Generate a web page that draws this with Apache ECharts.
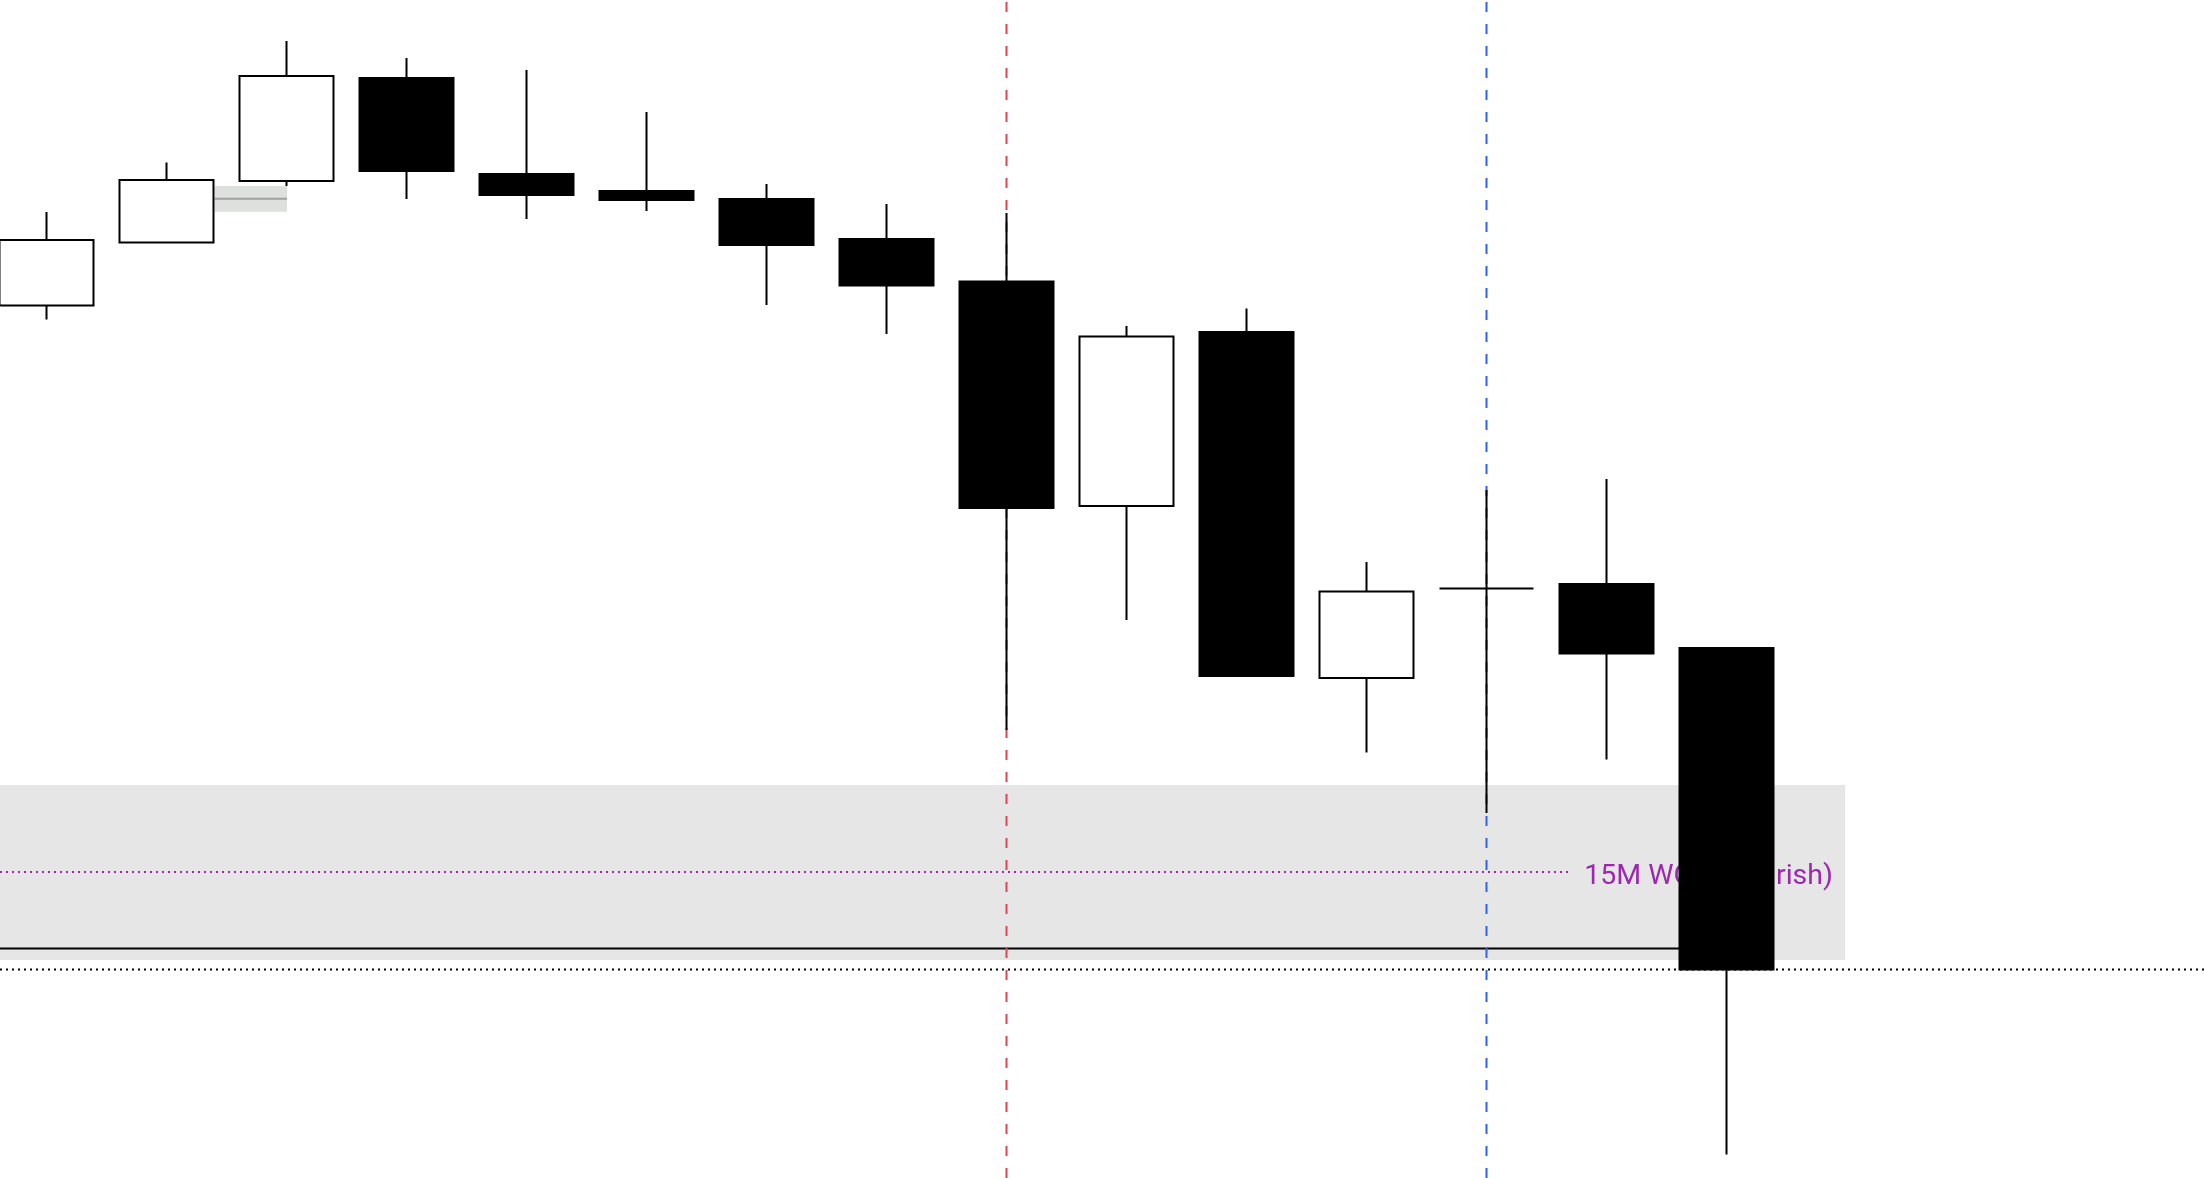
<!DOCTYPE html>
<html>
<head>
<meta charset="utf-8">
<script src="https://cdn.jsdelivr.net/npm/echarts@6/dist/echarts.min.js"></script>
<style>
html,body{margin:0;padding:0;background:#ffffff;}
#chart{width:2204px;height:1178px;}
</style>
</head>
<body>
<div id="chart"></div>
<script>
// ---- data (price units are arbitrary; no axis labels in the reference) ----
const candleIndex = [0, 1, 2, 3, 4, 5, 6, 7, 8, 9, 10, 11, 12, 13, 14];
const openValues  = [872.5, 935.5, 997, 1100, 1004, 987, 979, 939, 896.5, 672, 846, 500, 589.5, 594, 530];
const closeValues = [938, 998, 1102, 1007, 983, 978, 933, 892.5, 670, 841.5, 502, 586.5, 589.5, 524.5, 208.5];
const lowValues   = [858.5, 935, 992, 979, 959, 967, 873, 844, 448, 558, 501, 425.5, 365, 418.5, 23.5];
const highValues  = [966, 1015.5, 1137, 1120, 1108, 1066, 994, 974, 965, 852, 869.5, 616, 688, 699, 530];

const xRange = [-0.3875, 17.979167];
const yRange = [0, 1178];

// zone: [xStart, xEnd, low, high]
const bigZone = [-0.3875, 14.9875, 218, 393];
const smallZone = [1.4017, 2.004, 966.3, 992];
const smallZoneMid = 979.3;
const zoneMid = 306;          // purple dotted level
const zoneMidEnd = 12.679;
const zoneLabel = '15M WOB (Bearish)';
const zoneLabelPos = [14.887, 301.5];
const solidLevel = 229.5;
const solidLevelEnd = 14;
const lastCloseLevel = 208.5;
const redMarkerCandle = 8;
const blueMarkerCandle = 12;

const candleData = candleIndex.map((x, i) => [x, openValues[i], closeValues[i], lowValues[i], highValues[i]]);

const chart = echarts.init(document.getElementById('chart'), null, {renderer: 'canvas'});

function hLine(y, x0, x1, color, type, z) {
  return {
    type: 'line', data: [[x0, y], [x1, y]], symbol: 'none', silent: true, z: z,
    lineStyle: {color: color, width: 2, type: type}, animation: false, clip: false
  };
}
function vLine(x, color) {
  return {
    type: 'line', data: [[x, yRange[0]], [x, yRange[1]]], symbol: 'none', silent: true, z: 1,
    lineStyle: {color: color, width: 2, type: [10, 12]}, animation: false
  };
}
function zoneSeries(zone, fill) {
  return {
    type: 'custom', silent: true, z: 0, data: [zone],
    renderItem: function (params, api) {
      const p0 = api.coord([api.value(0), api.value(3)]);
      const p1 = api.coord([api.value(1), api.value(2)]);
      return {type: 'rect', shape: {x: p0[0], y: p0[1], width: p1[0] - p0[0], height: p1[1] - p0[1]}, style: {fill: fill}};
    }
  };
}

const option = {
  animation: false,
  backgroundColor: '#ffffff',
  grid: {left: 0, right: 0, top: 0, bottom: 0, containLabel: false},
  xAxis: {type: 'value', min: xRange[0], max: xRange[1], show: false, splitLine: {show: false}},
  yAxis: {type: 'value', min: yRange[0], max: yRange[1], show: false, splitLine: {show: false}},
  series: [
    zoneSeries(bigZone, '#e6e6e6'),
    zoneSeries(smallZone, '#dde0dc'),
    hLine(smallZoneMid, smallZone[0], smallZone[1], '#9ea39e', 'solid', 1),
    hLine(zoneMid, xRange[0], zoneMidEnd, '#9c27b0', [2, 4], 1),
    hLine(solidLevel, xRange[0], solidLevelEnd, '#000000', 'solid', 1),
    hLine(lastCloseLevel, xRange[0], xRange[1], '#000000', [2, 4], 1),
    vLine(redMarkerCandle, '#e04452'),
    vLine(blueMarkerCandle, '#2f62f0'),
    {
      type: 'custom', silent: true, z: 1, data: [zoneLabelPos],
      renderItem: function (params, api) {
        const p = api.coord([api.value(0), api.value(1)]);
        return {type: 'text', x: p[0], y: p[1],
          style: {text: zoneLabel, fill: '#9c27b0', fontSize: 28.5, fontFamily: 'Roboto', align: 'right', verticalAlign: 'middle'}};
      }
    },
    {
      type: 'candlestick', z: 3, data: candleData, barWidth: 94,
      itemStyle: {color: '#ffffff', color0: '#000000', borderColor: '#000000', borderColor0: '#000000', borderWidth: 2},
      emphasis: {disabled: true}, silent: true
    }
  ]
};
chart.setOption(option);
</script>
</body>
</html>
